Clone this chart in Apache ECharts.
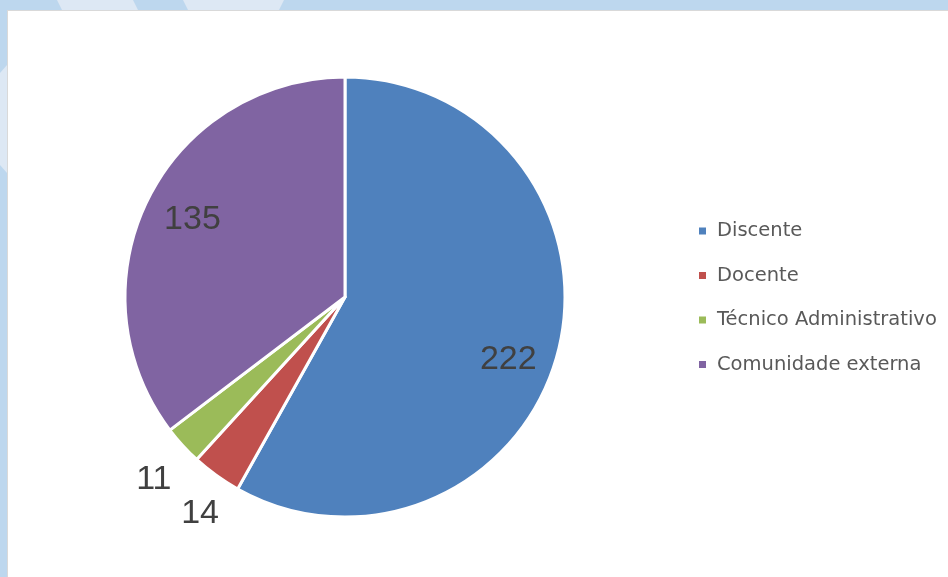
<!DOCTYPE html>
<html>
<head>
<meta charset="utf-8">
<script src="https://cdn.jsdelivr.net/npm/echarts@6/dist/echarts.min.js"></script>
<style>
  html, body { margin:0; padding:0; width:948px; height:577px; overflow:hidden; background:#bdd7ee; }
  #panel { position:absolute; left:7px; top:10px; width:941px; height:567px; background:#ffffff; border-left:1px solid #d9d9d9; border-top:1px solid #d9d9d9; box-sizing:border-box; }
  .deco { position:absolute; background:#dde8f4; }
  #chart { position:absolute; left:0; top:0; width:948px; height:577px; }
</style>
</head>
<body>
<div class="deco" style="left:57px;top:0;width:81px;height:10px;clip-path:polygon(0 0,76px 0,81px 10px,5px 10px);"></div>
<div class="deco" style="left:183px;top:0;width:101px;height:10px;clip-path:polygon(0 0,101px 0,96px 10px,5px 10px);"></div>
<div class="deco" style="left:0;top:65px;width:7px;height:108px;clip-path:polygon(7px 0,7px 108px,0 100px,0 8px);"></div>
<div id="panel"></div>
<div id="chart"></div>
<script>
const categories = ['Discente', 'Docente', 'Técnico Administrativo', 'Comunidade externa'];
const values = [222, 14, 11, 135];

// styling
const colors = ['#4f81bd', '#c0504d', '#9bbb59', '#8064a2'];
const insideLabel = [true, false, false, true];
const labelNudge = [[-8, 18], [9, 3], [3, 5], [6, 1]];

const chart = echarts.init(document.getElementById('chart'), null, {renderer:'canvas'});
const center = [345, 297];
const labelFont = { fontFamily:'Liberation Sans, Arial, sans-serif', fontSize:34, color:'#404040' };

function labelSeries(radius, showArr) {
  return {
    type:'pie', radius: radius, center: center, startAngle:90, clockwise:true,
    silent:true, animation:false, legendHoverLink:false,
    itemStyle:{ color:'rgba(0,0,0,0)', borderWidth:0 },
    emphasis:{ disabled:true },
    labelLine:{ show:false },
    data: categories.map((c,i)=>({
      name:c, value:values[i],
      itemStyle:{ color:'rgba(0,0,0,0)' },
      label:{ show: showArr[i], position:'inside', formatter:'{c}', offset: labelNudge[i], ...labelFont }
    })),
    z: 5
  };
}

chart.setOption({
  animation:false,
  legend:{
    orient:'vertical', left:692, top:216,
    itemWidth:9, itemHeight:9, icon:'rect', itemGap:24.5,
    data: categories,
    textStyle:{ fontFamily:'DejaVu Sans, sans-serif', fontSize:19.5, color:'#595959', lineHeight:20, padding:[0,0,0,5] }
  },
  series:[
    {
      type:'pie', radius:[0,220], center:center, startAngle:90, clockwise:true,
      silent:true,
      label:{ show:false }, labelLine:{ show:false },
      itemStyle:{ borderColor:'#ffffff', borderWidth:3 },
      data: categories.map((c,i)=>({ name:c, value:values[i], itemStyle:{ color:colors[i] } }))
    },
    labelSeries([128,220], insideLabel),
    labelSeries([238,282], insideLabel.map(v=>!v))
  ]
});
</script>
</body>
</html>
